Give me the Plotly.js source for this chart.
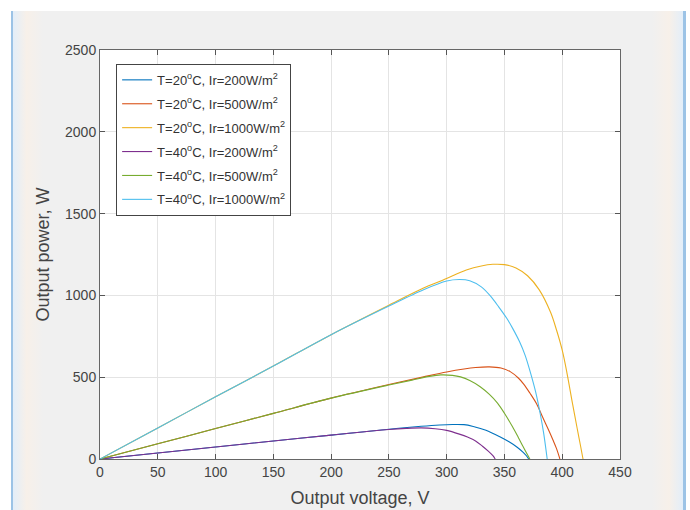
<!DOCTYPE html>
<html>
<head>
<meta charset="utf-8">
<script src="https://cdn.plot.ly/plotly-3.0.1.min.js"></script>
<style>
  html, body { margin: 0; padding: 0; background: #ffffff; }
  #frame { position: relative; width: 690px; height: 510px; background: #ffffff; overflow: hidden; }
  #win { position: absolute; left: 11px; top: 11px; width: 675px; height: 499px; background: #f0f0f0; }
  #lb { position: absolute; left: 11px; top: 11px; width: 2px; height: 499px; background: #9cc3e6; }
  #lg { position: absolute; left: 13px; top: 11px; width: 30px; height: 499px;
        background: linear-gradient(to right, #e3eef9 0%, #f7f0e9 45%, #f0f0f0 100%); }
  #rg { position: absolute; left: 652px; top: 11px; width: 31px; height: 499px;
        background: linear-gradient(to right, #f0f0f0 0%, #f7f0e9 55%, #e3eef9 100%); }
  #rb { position: absolute; left: 683px; top: 11px; width: 3px; height: 499px; background: #9cc3e6; }
  #chart { position: absolute; left: 0; top: 0; width: 690px; height: 510px; }
</style>
</head>
<body>
<div id="frame">
  <div id="win"></div>
  <div id="lg"></div>
  <div id="rg"></div>
  <div id="lb"></div>
  <div id="rb"></div>
  <div id="chart"></div>
</div>
<script>
// ---- data ----
const seriesNames = [
  "T=20<sup>o</sup>C, Ir=200W/m<sup>2</sup>",
  "T=20<sup>o</sup>C, Ir=500W/m<sup>2</sup>",
  "T=20<sup>o</sup>C, Ir=1000W/m<sup>2</sup>",
  "T=40<sup>o</sup>C, Ir=200W/m<sup>2</sup>",
  "T=40<sup>o</sup>C, Ir=500W/m<sup>2</sup>",
  "T=40<sup>o</sup>C, Ir=1000W/m<sup>2</sup>"
];

const v_T20_Ir200 = [0, 50, 100, 150, 200, 250, 278, 294, 305, 315, 323, 334, 346, 354, 361, 366, 369, 371];
const p_T20_Ir200 = [0, 37, 73, 110, 146, 182, 200, 208, 211, 210, 199, 176, 136, 105, 72, 42, 20, 0];

const v_T20_Ir500 = [0, 50, 100, 150, 200, 250, 280, 300, 315, 325, 337, 347, 355, 362, 367, 372, 378, 383, 388, 392, 395, 398];
const p_T20_Ir500 = [0, 93, 186, 279, 372, 455, 502, 532, 550, 559, 563, 556, 534, 495, 455, 403, 335, 257, 180, 116, 65, 0];

const v_T20_Ir1000 = [0, 50, 100, 150, 200, 250, 280, 297, 317, 330, 340, 350, 360, 370, 380, 390, 395, 400, 404, 409, 413, 416, 418];
const p_T20_Ir1000 = [0, 190, 380, 568, 760, 940, 1045, 1094, 1155, 1180, 1190, 1188, 1168, 1120, 1035, 895, 790, 665, 530, 335, 185, 75, 0];

const v_T40_Ir200 = [0, 50, 100, 150, 200, 250, 265, 278, 290, 300, 311, 318, 325, 331, 336, 340, 342];
const p_T40_Ir200 = [0, 37, 73, 110, 146, 180, 187, 190, 185, 175, 152, 134, 110, 78, 48, 20, 0];

const v_T40_Ir500 = [0, 50, 100, 150, 200, 250, 270, 285, 295, 305, 312, 320, 329, 337, 344, 350, 357, 362, 366, 369, 372];
const p_T40_Ir500 = [0, 93, 186, 279, 372, 452, 482, 505, 514, 511, 502, 480, 442, 395, 342, 280, 197, 132, 78, 38, 0];

const v_T40_Ir1000 = [0, 50, 100, 150, 200, 250, 280, 300, 311, 320, 330, 338, 345, 352, 357, 363, 368, 372, 377, 381, 384, 387];
const p_T40_Ir1000 = [0, 190, 380, 568, 760, 935, 1035, 1088, 1097, 1090, 1052, 995, 930, 860, 800, 718, 632, 540, 410, 275, 155, 0];

const xTicks = [0, 50, 100, 150, 200, 250, 300, 350, 400, 450];
const yTicks = [0, 500, 1000, 1500, 2000, 2500];

const colors = ["#0072BD", "#D95319", "#EDB120", "#7E2F8E", "#77AC30", "#4DBEEE"];

const xs = [v_T20_Ir200, v_T20_Ir500, v_T20_Ir1000, v_T40_Ir200, v_T40_Ir500, v_T40_Ir1000];
const ys = [p_T20_Ir200, p_T20_Ir500, p_T20_Ir1000, p_T40_Ir200, p_T40_Ir500, p_T40_Ir1000];

const traces = xs.map((x, i) => ({
  type: "scatter",
  mode: "lines",
  x: x,
  y: ys[i],
  name: seriesNames[i],
  legendgroup: "g" + i,
  line: { color: colors[i], width: 1.1, shape: "spline", smoothing: 0.9 }
}));

const font = "Liberation Sans, Arial, sans-serif";

const axisCommon = {
  ticks: "inside",
  ticklen: 5,
  tickcolor: "#555",
  showline: true,
  linecolor: "#666",
  linewidth: 1,
  mirror: "ticks",
  showgrid: true,
  gridcolor: "#e4e4e4",
  gridwidth: 1,
  zeroline: false,
  tickfont: { family: font, size: 14, color: "#444" }
};

const layout = {
  width: 690,
  height: 510,
  margin: { l: 100, r: 70, t: 50, b: 51 },
  paper_bgcolor: "rgba(0,0,0,0)",
  plot_bgcolor: "#ffffff",
  showlegend: true,
  xaxis: Object.assign({}, axisCommon, {
    range: [0, 450],
    tickmode: "array",
    tickvals: xTicks,
    ticktext: xTicks.map(String),
    title: { text: "Output voltage, V", font: { family: font, size: 18, color: "#444" }, standoff: 12 }
  }),
  yaxis: Object.assign({}, axisCommon, {
    range: [0, 2500],
    tickmode: "array",
    tickvals: yTicks,
    ticktext: yTicks.map(String),
    title: { text: "Output power, W", font: { family: font, size: 18, color: "#444" }, standoff: 10 }
  }),
  legend: {
    x: 0.031, y: 0.966, xanchor: "left", yanchor: "top",
    bgcolor: "#ffffff", bordercolor: "#444", borderwidth: 1,
    font: { family: font, size: 13, color: "#333" },
    itemwidth: 30,
    tracegroupgap: 4
  }
};

Plotly.newPlot("chart", traces, layout, { displayModeBar: false, staticPlot: true });
</script>
</body>
</html>
